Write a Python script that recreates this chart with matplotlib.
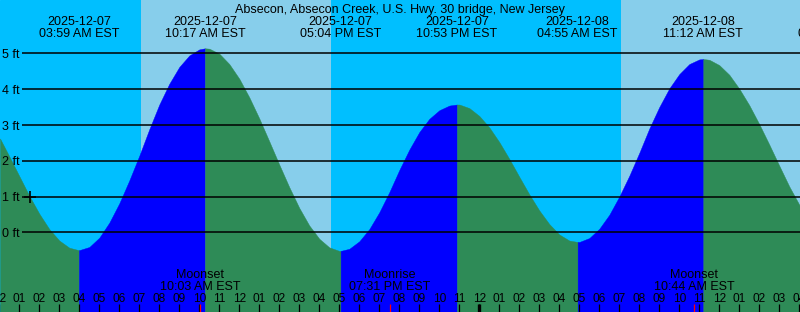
import matplotlib
matplotlib.use("Agg")
import matplotlib.pyplot as plt

# hours counted from 2025-12-07 00:00 EST
title = "Absecon, Absecon Creek, U.S. Hwy. 30 bridge, New Jersey"

# high / low tides
ext_hours = [3.983, 10.283, 17.067, 22.883, 28.917, 35.2]
ext_ft = [-0.50, 5.14, -0.52, 3.57, -0.27, 4.84]
ext_dates = ["2025-12-07", "2025-12-07", "2025-12-07", "2025-12-07",
             "2025-12-08", "2025-12-08", "2025-12-08"]
ext_times = ["03:59 AM EST", "10:17 AM EST", "05:04 PM EST", "10:53 PM EST",
             "04:55 AM EST", "11:12 AM EST", "05:58 PM EST"]
label_hours = ext_hours + [41.98]   # last one is past the right edge

# water level (half hours plus the extremes)
tide_hours = [0.035, 0.5, 1.0, 1.5, 2.0, 2.5, 3.0, 3.5, 3.983,
              4.5, 5.0, 5.5, 6.0, 6.5, 7.0, 7.5, 8.0, 8.5, 9.0, 9.5, 10.0, 10.283,
              10.5, 11.0, 11.5, 12.0, 12.5, 13.0, 13.5, 14.0, 14.5, 15.0, 15.5,
              16.0, 16.5, 17.0, 17.067,
              17.5, 18.0, 18.5, 19.0, 19.5, 20.0, 20.5, 21.0, 21.5, 22.0, 22.5,
              22.883,
              23.0, 23.5, 24.0, 24.5, 25.0, 25.5, 26.0, 26.5, 27.0, 27.5, 28.0,
              28.5, 28.917,
              29.0, 29.5, 30.0, 30.5, 31.0, 31.5, 32.0, 32.5, 33.0, 33.5, 34.0,
              34.5, 35.0, 35.2,
              35.5, 36.0, 36.5, 37.0, 37.5, 38.0, 38.5, 39.0, 39.5, 40.0, 40.035]
tide_ft = [2.62, 2.12, 1.57, 1.02, 0.52, 0.09, -0.23, -0.43, -0.50,
           -0.41, -0.15, 0.27, 0.81, 1.45, 2.14, 2.88, 3.57, 4.15, 4.62, 4.94, 5.11, 5.14,
           5.13, 4.99, 4.70, 4.29, 3.77, 3.18, 2.54, 1.89, 1.26, 0.68, 0.19,
           -0.18, -0.42, -0.52, -0.52,
           -0.46, -0.25, 0.09, 0.56, 1.12, 1.74, 2.31, 2.80, 3.17, 3.41, 3.54,
           3.57,
           3.57, 3.47, 3.25, 2.93, 2.52, 2.05, 1.55, 1.06, 0.61, 0.23, -0.06,
           -0.23, -0.27,
           -0.27, -0.16, 0.10, 0.49, 1.00, 1.58, 2.22, 2.90, 3.50, 4.02, 4.42,
           4.70, 4.83, 4.84,
           4.82, 4.67, 4.40, 4.01, 3.55, 3.02, 2.45, 1.86, 1.28, 0.77, 0.74]

# daylight (sunrise, sunset)
day_spans = [(7.083, 16.583), (31.083, 40.583)]

# moon events
moon_hours = [10.05, 19.517, 34.733]
moon_names = ["Moonset", "Moonrise", "Moonset"]
moon_times = ["10:03 AM EST", "07:31 PM EST", "10:44 AM EST"]

levels = [0, 1, 2, 3, 4, 5]
marker_hour = [1.535]
marker_ft = [1.0]

night_col = "#00BFFF"
day_col = "#87CEEB"
rise_col = "#0000FF"
fall_col = "#2E8B57"

plt.rcParams['font.family'] = ['Liberation Sans', 'DejaVu Sans']
fs = 9
fs_hour = 8.6

fig = plt.figure(figsize=(8, 3.12), dpi=100)
ax = fig.add_axes([0, 0, 1, 1])
ax.set_xlim(0.035, 40.035)
ax.set_ylim(-2.226, 6.489)
ax.axis('off')
ax.add_patch(plt.Rectangle((0, 0), 1, 1, transform=ax.transAxes,
                           color=night_col, zorder=0))
for a, b in day_spans:
    ax.axvspan(a, b, color=day_col, lw=0, zorder=1)

# fill water, blue while rising, green while falling
bounds = [tide_hours[0]] + ext_hours + [tide_hours[-1]]
for a, b in zip(bounds[:-1], bounds[1:]):
    idx = [i for i, t in enumerate(tide_hours) if a <= t <= b]
    xs = [tide_hours[i] for i in idx]
    ys = [tide_ft[i] for i in idx]
    col = rise_col if ys[-1] > ys[0] else fall_col
    ax.fill_between(xs, ys, -2.226, color=col, lw=0.3, ec=col, zorder=2)

# level lines and labels
ax.hlines(levels, 22 / 800, 1, color='black', lw=1.1,
          transform=ax.get_yaxis_transform(), zorder=3)
for lv in levels:
    ax.text(2 / 800, lv - 4.7 / 35.8, "%d ft" % lv, fontsize=fs,
            transform=ax.get_yaxis_transform(), va='baseline', zorder=4)

ax.plot(marker_hour, marker_ft, '+', color='black', ms=9, mew=1.2, zorder=4)

xt = ax.get_xaxis_transform()
ax.text(0.5, 1 - 13 / 312, title, fontsize=fs, ha='center', va='baseline',
        transform=ax.transAxes, zorder=5)
for t, d, s in zip(label_hours, ext_dates, ext_times):
    ax.text(t, 1 - 25 / 312, d, fontsize=fs, ha='center', va='baseline',
            transform=xt, zorder=5)
    ax.text(t, 1 - 37 / 312, s, fontsize=fs, ha='center', va='baseline',
            transform=xt, zorder=5)

for t, n, s in zip(moon_hours, moon_names, moon_times):
    ax.text(t, 34 / 312, n, fontsize=fs, ha='center', va='baseline',
            transform=xt, zorder=5)
    ax.text(t, 22 / 312, s, fontsize=fs, ha='center', va='baseline',
            transform=xt, zorder=5)

# hour ticks along the bottom
hours = list(range(0, 41))
ax.vlines(hours, 0, 8 / 312, color='black', lw=0.9, transform=xt, zorder=4)
ax.vlines([24], 0, 8 / 312, color='black', lw=2.4, transform=xt, zorder=4)
ax.vlines(moon_hours, 0, 8 / 312, color='red', lw=0.9, transform=xt, zorder=4)
for h in hours:
    lab = "%02d" % (12 if h % 12 == 0 else h % 12)
    ax.text(h, 10 / 312, lab, fontsize=fs_hour, ha='center', va='baseline',
            transform=xt, zorder=5)

fig.savefig("out.png", dpi=100)
